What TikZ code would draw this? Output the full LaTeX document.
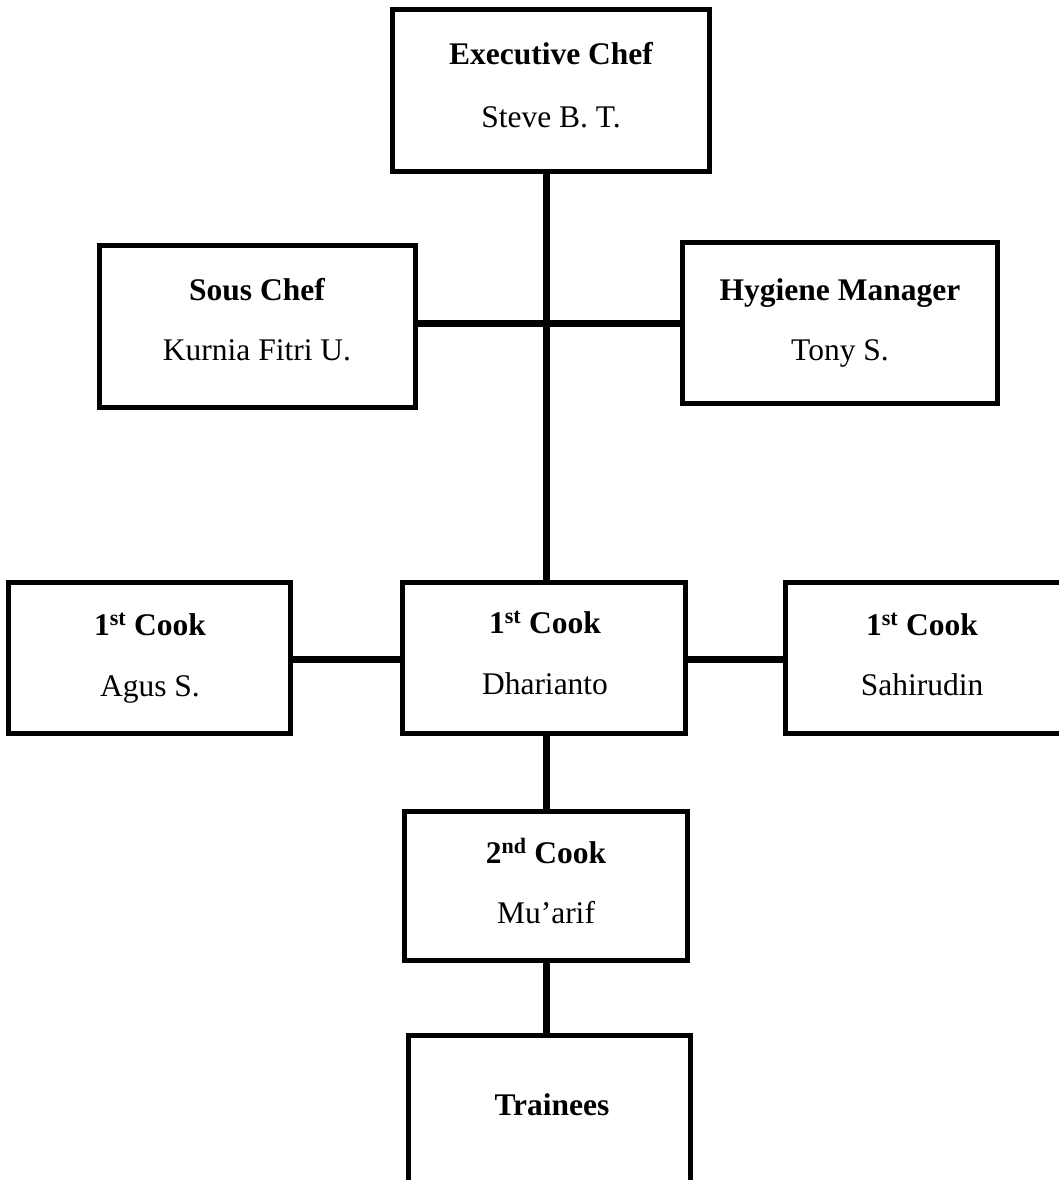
\documentclass[tikz,border=0pt]{standalone}
\usepackage{fontspec}
\setmainfont{Liberation Serif}
\begin{document}
\begin{tikzpicture}[x=1pt,y=-1pt,
  box/.style={draw=black,line width=3.3pt,rectangle,inner sep=0pt,fill=white},
  ttl/.style={anchor=base,inner sep=0pt,font=\fontsize{31.5}{36}\selectfont\bfseries},
  nm/.style={anchor=base,inner sep=0pt,font=\fontsize{31.5}{36}\selectfont},
  conn/.style={line width=7pt,black}]
\useasboundingbox (0,0) rectangle (1059,1180);
\clip (0,0) rectangle (1059,1180);
\fill[white] (0,0) rectangle (1059,1180);
% boxes
\node[box,minimum width=314.5pt,minimum height=160pt] (exec) at (551,90.5) {};
\node[box,minimum width=313.5pt,minimum height=159.5pt] (sous) at (257.5,326.5) {};
\node[box,minimum width=313.5pt,minimum height=158.5pt] (hyg) at (840,323) {};
\node[box,minimum width=279.5pt,minimum height=148.5pt] (agus) at (149.5,658) {};
\node[box,minimum width=280.5pt,minimum height=148.5pt] (dhar) at (544,658) {};
\node[box,minimum width=320pt,minimum height=148.5pt] (sahi) at (946,658) {};
\node[box,minimum width=280.5pt,minimum height=146.5pt] (second) at (546,886) {};
\node[box,minimum width=279.5pt,minimum height=200pt] (train) at (549.5,1136.5) {};
% connectors
\coordinate (spinetop) at (546,170);
\draw[conn] (spinetop) -- (spinetop |- dhar.north);
\draw[conn] (sous.east |- 0,323.5) -- (hyg.west |- 0,323.5);
\draw[conn] (agus.east |- 0,659) -- (dhar.west |- 0,659);
\draw[conn] (dhar.east |- 0,659.5) -- (sahi.west |- 0,659.5);
\draw[conn] (dhar.south -| spinetop) -- (second.north -| spinetop);
\draw[conn] (second.south -| spinetop) -- (train.north -| spinetop);
% redraw boxes on top of connector ends
\foreach \n in {exec,sous,hyg,agus,dhar,sahi,second,train}{
  \draw[line width=3.3pt] (\n.north west) rectangle (\n.south east);
}
% texts
\node[ttl] (t1) at (551,65) {Executive Chef};
\node[nm] (n1) at (551,128) {Steve B. T.};
\node[ttl] (t2) at (257,300) {Sous Chef};
\node[nm] (n2) at (257,360) {Kurnia Fitri U.};
\node[ttl] (t3) at (840,300) {Hygiene Manager};
\node[nm] (n3) at (840,360) {Tony S.};
\node[ttl] (t4) at (150,635) {1\textsuperscript{st} Cook};
\node[nm] (n4) at (150,696) {Agus S.};
\node[ttl] (t5) at (545,633) {1\textsuperscript{st} Cook};
\node[nm] (n5) at (545,694) {Dharianto};
\node[ttl] (t6) at (922,635) {1\textsuperscript{st} Cook};
\node[nm] (n6) at (922,695) {Sahirudin};
\node[ttl] (t7) at (546,863) {2\textsuperscript{nd} Cook};
\node[nm] (n7) at (546,923) {Mu’arif};
\node[ttl] (t8) at (552,1115) {Trainees};
\end{tikzpicture}
\end{document}
